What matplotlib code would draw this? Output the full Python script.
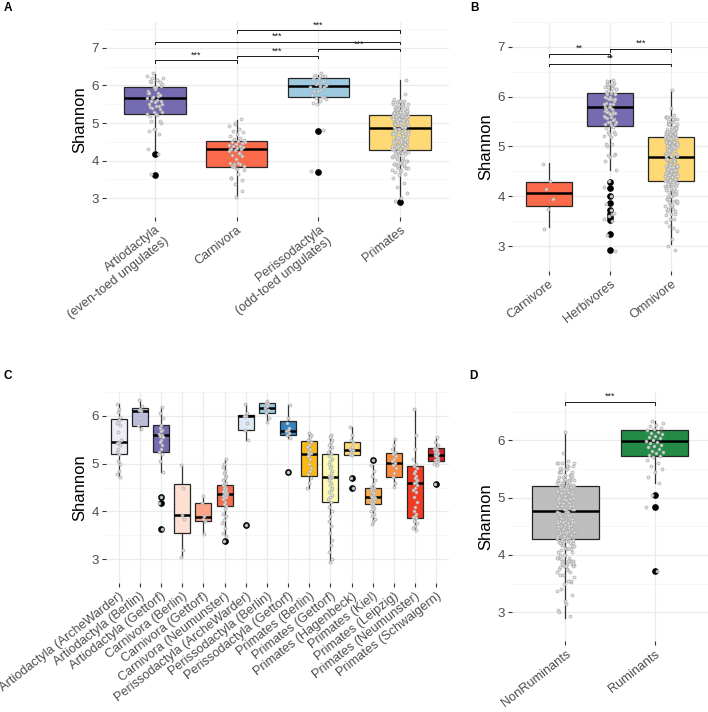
import matplotlib
matplotlib.use('Agg')
import matplotlib.pyplot as plt
import numpy as np

plt.rcParams['font.family'] = ['Liberation Sans', 'DejaVu Sans']

# ---------------- data: panel C (per site) point values ----------------
arti_archewarder = [6.25, 6.15, 6.08, 5.98, 5.92, 5.85, 5.8, 5.66, 5.5, 5.46, 5.43, 5.38, 5.3, 5.25, 5.21, 5.05, 5.0, 4.85, 4.78, 4.71]
arti_berlin = [6.34, 6.2, 6.15, 6.12, 6.1, 5.95, 5.8, 5.72]
arti_gettorf = [6.19, 6.05, 5.95, 5.8, 5.75, 5.7, 5.68, 5.62, 5.6, 5.58, 5.55, 5.5, 5.45, 5.4, 5.3, 5.25, 5.2, 5.05, 4.83, 4.30, 4.18, 3.64]
carn_berlin = [4.98, 4.5, 3.93, 3.85, 3.2, 3.04]
carn_gettorf = [4.32, 4.18, 3.9, 3.85, 3.79, 3.53]
carn_neumunster = [5.1, 5.0, 4.92, 4.85, 4.8, 4.75, 4.7, 4.65, 4.6, 4.58, 4.55, 4.52, 4.5, 4.47, 4.45, 4.42, 4.4, 4.38, 4.36,
                   4.34, 4.32, 4.3, 4.28, 4.25, 4.2, 4.15, 4.12, 4.05, 3.95, 3.9, 3.82, 3.75, 3.65, 3.55, 3.49, 3.37]
peri_archewarder = [6.25, 6.05, 6.0, 5.99, 5.85, 5.7, 5.5, 3.72]
peri_berlin = [6.32, 6.28, 6.25, 6.2, 6.17, 6.12, 6.06, 5.95, 5.88]
peri_gettorf = [6.23, 5.95, 5.85, 5.75, 5.7, 5.68, 5.65, 5.6, 5.53, 4.82]
prim_berlin = [5.64, 5.6, 5.55, 5.5, 5.45, 5.4, 5.35, 5.3, 5.25, 5.22, 5.2, 5.15, 5.1, 5.0, 4.9, 4.85, 4.78, 4.7, 4.6, 4.48]
prim_gettorf = [5.6, 5.55, 5.5, 5.45, 5.4, 5.35, 5.3, 5.25, 5.2, 5.15, 5.1, 5.05, 5.0, 4.95, 4.9, 4.85, 4.8, 4.75, 4.73, 4.7,
                4.65, 4.6, 4.55, 4.5, 4.45, 4.4, 4.35, 4.3, 4.25, 4.2, 4.1, 4.0, 3.9, 3.8, 3.7, 3.55, 3.4, 3.3, 3.15, 3.0, 2.93]
prim_hagenbeck = [5.77, 5.6, 5.5, 5.45, 5.35, 5.3, 5.29, 5.25, 5.2, 5.18, 4.70, 4.48]
prim_kiel = [5.08, 4.97, 4.85, 4.75, 4.65, 4.58, 4.52, 4.5, 4.47, 4.45, 4.42, 4.4, 4.38, 4.35, 4.33, 4.31, 4.3, 4.28, 4.26,
             4.24, 4.22, 4.2, 4.18, 4.16, 4.12, 4.08, 4.05, 4.0, 3.95, 3.9, 3.85, 3.8, 3.74]
prim_leipzig = [5.51, 5.4, 5.3, 5.25, 5.2, 5.15, 5.1, 5.05, 5.02, 4.98, 4.9, 4.8, 4.72, 4.6, 4.52]
prim_neumunster = [6.14, 5.6, 5.3, 5.1, 5.0, 4.96, 4.9, 4.85, 4.8, 4.75, 4.7, 4.65, 4.62, 4.6, 4.55, 4.5, 4.45, 4.4, 4.3,
                   4.2, 4.1, 4.0, 3.95, 3.9, 3.88, 3.86, 3.8, 3.75, 3.7, 3.65, 3.62]
prim_schwaigern = [5.55, 5.45, 5.38, 5.32, 5.3, 5.28, 5.25, 5.22, 5.2, 5.19, 5.18, 5.15, 5.12, 5.1, 5.08, 5.06, 5.03, 5.0, 4.97, 4.58]

# extra points only in panels B / D
herb_extra = [4.52, 4.0, 3.85, 3.67, 3.6, 3.55, 3.5, 3.22, 2.9]
carnivore_diet = [4.65, 4.3, 4.15, 3.95, 3.75, 3.35]
ruminants = [6.33, 6.3, 6.27, 6.25, 6.22, 6.2, 6.18, 6.15, 6.12, 6.1, 6.08, 6.05, 6.03, 6.0, 5.98, 5.97, 5.95, 5.92, 5.9,
             5.88, 5.85, 5.82, 5.8, 5.78, 5.75, 5.73, 5.7, 5.65, 5.6, 5.55, 5.5, 5.45, 5.35, 5.25, 5.05, 4.83, 3.72]

artio = arti_archewarder + arti_berlin + arti_gettorf
carni = carn_berlin + carn_gettorf + carn_neumunster
periss = peri_archewarder + peri_berlin + peri_gettorf
prim = prim_berlin + prim_gettorf + prim_hagenbeck + prim_kiel + prim_leipzig + prim_neumunster + prim_schwaigern

# ---------------- panel A ----------------
A_cats = ['Artiodactyla\n(even-toed ungulates)', 'Carnivora', 'Perissodactyla\n(odd-toed ungulates)', 'Primates']
A_q1 = [5.25, 3.84, 5.70, 4.29]
A_med = [5.67, 4.32, 5.99, 4.86]
A_q3 = [5.97, 4.52, 6.21, 5.21]
A_lo = [4.28, 3.03, 5.50, 3.00]
A_hi = [6.31, 5.08, 6.27, 6.14]
A_fl = [[4.17, 3.63], [], [4.79, 3.71], [2.90]]
A_col = ['#756BB1', '#FB6A4A', '#9ECAE1', '#FED976']
A_pts = [artio, carni, periss, prim]
A_br = [(1, 2, 6.67), (2, 3, 6.78), (3, 4, 6.97), (1, 4, 7.17), (2, 4, 7.47)]
A_brlab = ['***', '***', '***', '***', '***']

# ---------------- panel B ----------------
B_cats = ['Carnivore', 'Herbivores', 'Omnivore']
B_q1 = [3.80, 5.42, 4.30]
B_med = [4.06, 5.80, 4.79]
B_q3 = [4.29, 6.08, 5.20]
B_lo = [3.39, 4.53, 3.05]
B_hi = [4.66, 6.34, 6.13]
B_fl = [[], [4.28, 4.17, 4.0, 3.86, 3.73, 3.65, 3.58, 3.52, 3.25, 2.93], []]
B_col = ['#FB6A4A', '#756BB1', '#FED976']
B_pts = [carnivore_diet, artio + periss + herb_extra, prim + carn_neumunster]
B_br = [(1, 2, 6.86), (2, 3, 6.96), (1, 3, 6.66)]
B_brlab = ['**', '***', '**']

# ---------------- panel C ----------------
C_cats = ['Artiodactyla (ArcheWarder)', 'Artiodactyla (Berlin)', 'Artiodactyla (Gettorf)', 'Carnivora (Berlin)',
          'Carnivora (Gettorf)', 'Carnivora (Neumunster)', 'Perissodactyla (ArcheWarder)', 'Perissodactyla (Berlin)',
          'Perissodactyla (Gettorf)', 'Primates (Berlin)', 'Primates (Gettorf)', 'Primates (Hagenbeck)',
          'Primates (Kiel)', 'Primates (Leipzig)', 'Primates (Neumunster)', 'Primates (Schwaigern)']
C_q1 = [5.21, 5.79, 5.25, 3.55, 3.79, 4.11, 5.70, 6.06, 5.60, 4.75, 4.19, 5.18, 4.16, 4.72, 3.86, 5.06]
C_med = [5.46, 6.11, 5.59, 3.93, 3.88, 4.36, 5.99, 6.17, 5.68, 5.20, 4.73, 5.29, 4.31, 5.02, 4.60, 5.19]
C_q3 = [5.94, 6.17, 5.81, 4.58, 4.18, 4.56, 6.01, 6.27, 5.90, 5.48, 5.21, 5.46, 4.50, 5.22, 4.96, 5.32]
C_lo = [4.71, 5.71, 4.83, 3.04, 3.53, 3.49, 5.50, 5.88, 5.53, 4.48, 2.93, 5.18, 3.74, 4.52, 3.62, 4.97]
C_hi = [6.25, 6.34, 6.19, 4.98, 4.32, 5.10, 6.25, 6.32, 6.23, 5.64, 5.60, 5.77, 4.97, 5.51, 6.14, 5.55]
C_fl = [[], [], [4.30, 4.18, 3.64], [], [], [3.37], [3.72], [], [4.82], [], [], [4.70, 4.48], [5.08], [], [], [4.58]]
C_col = ['#EFEDF5', '#BCBDDC', '#756BB1', '#FEE0D2', '#FCA487', '#FB6A4A', '#DEEBF7', '#9ECAE1', '#3182BD',
         '#FDB913', '#FFFBB0', '#FED976', '#FEAE4A', '#FD8D3C', '#F23B22', '#D3202A']
C_pts = [arti_archewarder, arti_berlin, arti_gettorf, carn_berlin, carn_gettorf, carn_neumunster, peri_archewarder,
         peri_berlin, peri_gettorf, prim_berlin, prim_gettorf, prim_hagenbeck, prim_kiel, prim_leipzig,
         prim_neumunster, prim_schwaigern]

# ---------------- panel D ----------------
D_cats = ['NonRuminants', 'Ruminants']
D_q1 = [4.27, 5.73]
D_med = [4.76, 5.98]
D_q3 = [5.21, 6.17]
D_lo = [2.90, 5.25]
D_hi = [6.13, 6.33]
D_fl = [[], [5.05, 4.83, 3.72]]
D_col = ['#BEBEBE', '#238B45']
D_pts = [carni + prim, ruminants]
D_br = [(1, 2, 6.67)]
D_brlab = ['***']

# ---------------- drawing ----------------
W, H = 708, 712
fig = plt.figure(figsize=(W / 100, H / 100), dpi=100)


def add_ax(x0, y0, x1, y1):
    return fig.add_axes([x0 / W, 1 - y1 / H, (x1 - x0) / W, (y1 - y0) / H])


def panel(ax, cats, q1, med, q3, lo, hi, fl, cols, pts, ylim, yticks, brs=(), brlab=(), tick_fs=9.2):
    n = len(cats)
    pos = np.arange(1, n + 1)
    stats = [dict(med=med[i], q1=q1[i], q3=q3[i], whislo=lo[i], whishi=hi[i], fliers=fl[i]) for i in range(n)]
    bp = ax.bxp(stats, positions=pos, widths=0.75, patch_artist=True, showcaps=False,
                boxprops=dict(edgecolor='#262626', linewidth=0.9),
                medianprops=dict(color='black', linewidth=1.8),
                whiskerprops=dict(color='#333333', linewidth=0.9),
                flierprops=dict(marker='o', markerfacecolor='black', markeredgecolor='black', markersize=3.8),
                zorder=2)
    for patch, c in zip(bp['boxes'], cols):
        patch.set_facecolor(c)
    for i, p in enumerate(pts):
        k = np.arange(len(p))
        off = (((k * 0.6180339887 + i * 0.37) % 1.0) - 0.5) * 0.2
        ax.plot(pos[i] + off, p, linestyle='none', marker='o', markersize=2.2, markeredgewidth=0.5,
                markeredgecolor='#a6a6a6', markerfacecolor='#e4e4e4', alpha=0.9, zorder=3)
    rng = ylim[1] - ylim[0]
    for (x1, x2, y), lab in zip(brs, brlab):
        t = rng * 0.012
        ax.plot([x1, x1, x2, x2], [y - t, y, y, y - t], color='#1a1a1a', lw=0.7, zorder=4)
        ax.text((x1 + x2) / 2, y + rng * 0.004, lab, ha='center', va='bottom', fontsize=6.5, color='#1a1a1a')
    ax.set_xlim(0.4, n + 0.6)
    ax.set_ylim(*ylim)
    ax.set_yticks(yticks)
    ax.set_yticks([v + 0.5 for v in [yticks[0] - 1] + list(yticks)], minor=True)
    ax.set_xticks(pos)
    ax.set_xticklabels(cats)
    for lab in ax.get_xticklabels():
        lab.set_rotation(38)
        lab.set_ha('right')
        lab.set_va('top')
        lab.set_rotation_mode('anchor')
        lab.set_multialignment('right')
    ax.tick_params(axis='both', which='major', length=3, width=0.8, color='#333333',
                   labelsize=tick_fs, labelcolor='#4D4D4D', pad=2)
    ax.tick_params(axis='y', which='major', labelsize=9.6)
    ax.tick_params(axis='both', which='minor', length=0)
    ax.grid(True, which='major', color='#EBEBEB', lw=0.9, zorder=0)
    ax.grid(True, which='minor', axis='y', color='#F4F4F4', lw=0.5, zorder=0)
    ax.set_axisbelow(True)
    for s in ax.spines.values():
        s.set_visible(False)
    ax.set_ylabel('Shannon', fontsize=12, labelpad=3, color='black')


axA = add_ax(106, 22, 449, 217)
panel(axA, A_cats, A_q1, A_med, A_q3, A_lo, A_hi, A_fl, A_col, A_pts, (2.69, 7.69), [3, 4, 5, 6, 7], A_br, A_brlab)
axB = add_ax(512, 22, 708, 271)
panel(axB, B_cats, B_q1, B_med, B_q3, B_lo, B_hi, B_fl, B_col, B_pts, (2.75, 7.16), [3, 4, 5, 6, 7], B_br, B_brlab)
axC = add_ax(106, 392, 449, 583)
panel(axC, C_cats, C_q1, C_med, C_q3, C_lo, C_hi, C_fl, C_col, C_pts, (2.77, 6.49), [3, 4, 5, 6])
axD = add_ax(512, 392, 708, 641)
panel(axD, D_cats, D_q1, D_med, D_q3, D_lo, D_hi, D_fl, D_col, D_pts, (2.72, 6.84), [3, 4, 5, 6], D_br, D_brlab)

for lab, (x, y) in zip('ABCD', [(4, 11), (470, 11), (4, 379), (469, 379)]):
    fig.text(x / W, 1 - y / H, lab, fontsize=8.5, fontweight='bold', ha='left', va='baseline')

fig.savefig('out.png', dpi=100)
